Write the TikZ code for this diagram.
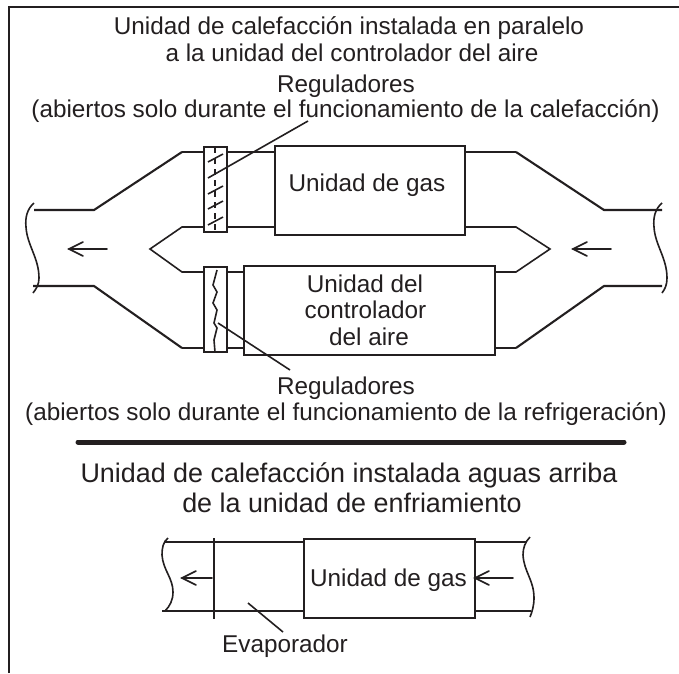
\documentclass[tikz,border=0pt]{standalone}
\usepackage{fontspec}
\setmainfont{Liberation Sans}
\definecolor{ink}{HTML}{231F20}
\tikzset{
  x=1pt,y=-1pt,
  line/.style={draw=ink,line width=1.6pt,line join=miter},
  bold line/.style={draw=ink,line width=2.1pt,line join=miter},
  flowhead/.style={draw=ink,line width=1.6pt,line cap=round,line join=miter},
  lbl/.style={text=ink,font=\fontsize{24.3}{28}\selectfont,inner sep=0pt,anchor=base},
  bigl/.style={text=ink,font=\fontsize{26.9}{30}\selectfont,inner sep=0pt,anchor=base},
  unitbox/.style={draw=ink,line width=1.8pt,inner sep=0pt,anchor=north west}
}
\begin{document}
\begin{tikzpicture}
\useasboundingbox (0,0) rectangle (679,673);
\fill[white] (0,0) rectangle (679,673);
\coordinate (fb) at (9,673); \coordinate (fc) at (9,7); \coordinate (fr) at (679,7);
\draw[draw=ink,line width=2.3pt] (fb) -- (fc) -- (fr);
% texts
\node[lbl] (t1) at (349,34) {Unidad de calefacción instalada en paralelo};
\node[lbl] (t1b) at (352,61) {a la unidad del controlador del aire};
\node[lbl] (t2) at (346,92) {Reguladores};
\node[lbl] (t3) at (345.5,117) {(abiertos solo durante el funcionamiento de la calefacción)};
\node[lbl] (t4) at (346,394) {Reguladores};
\node[lbl] (t5) at (346,420) {(abiertos solo durante el funcionamiento de la refrigeración)};
\node[bigl] (t6) at (349,482) {Unidad de calefacción instalada aguas arriba};
\node[bigl] (t6b) at (352,512) {de la unidad de enfriamiento};
\coordinate (barL) at (78,442); \coordinate (barR) at (624,442);
\draw[draw=ink,line width=5pt,line cap=round] (barL) -- (barR);
% boxes
\node[unitbox,minimum width=190pt,minimum height=89pt] (gas) at (274,145) {};
\node[lbl] (gaslbl) at (367,191) {Unidad de gas};
\node[unitbox,minimum width=251pt,minimum height=89pt] (ctl) at (243,265) {};
\node[lbl] (c1) at (365,292) {Unidad del};
\node[lbl] (c2) at (365.5,318) {controlador};
\node[lbl] (c3) at (369,345) {del aire};
% outer duct walls
\draw[bold line] (34,210) -- (94,210) -- (182,152);
\draw[line] (182,152) -- (204,152);
\draw[line] (227,152) -- (274,152);
\draw[line] (464,152) -- (516,152);
\draw[bold line] (516,152) -- (604,210) -- (662,210);
\draw[bold line] (33,286) -- (94,286) -- (182,348);
\draw[line] (182,348) -- (204,348);
\draw[line] (227,348) -- (243,348);
\draw[line] (494,348) -- (516,348);
\draw[bold line] (516,348) -- (604,286) -- (662,286);
% inner wedge
\draw[line] (204,227) -- (182,227) -- (150,249) -- (182,272) -- (204,272);
\draw[line] (227,227) -- (274,227);
\draw[line] (227,272) -- (243,272);
\draw[line] (464,227) -- (516,227) -- (550,249) -- (516,272) -- (494,272);
% duct ends
\draw[line] (34,203) .. controls (27,209) and (25,218) .. (26,227) .. controls (27,245) and (39,258) .. (39,278) .. controls (39,285) and (36,289) .. (33,293);
\draw[line] (662,203) .. controls (655,209) and (653,218) .. (654,227) .. controls (655,245) and (667,258) .. (667,278) .. controls (667,285) and (665,289) .. (662,293);
% dampers
\draw[line] (204,147) rectangle (227,232);
\draw[line] (204,267) rectangle (227,352);
\draw[draw=ink,line width=1.5pt,dash pattern=on 6pt off 5pt] (215,147) -- (215,232);
\foreach \yy in {162,194,209,225}{\draw[line] (208,\yy) -- (223,\yy-8);}
\coordinate (regA) at (208,178); \coordinate (regAend) at (308,121);
\draw[line] (regA) -- (regAend);
\draw[line] (217,270) -- (213,285) -- (217,292) -- (213,303) -- (217,310) -- (214,323) -- (217,328) -- (214,340) -- (215,352);
\coordinate (regB) at (218,323); \coordinate (regBend) at (290,370);
\draw[line] (regB) -- (regBend);
% arrows
\foreach \sx/\ex/\yy in {107/69/249,611/573/249,212/182/578,513/475/578}{
  \draw[flowhead] (\sx,\yy) -- (\ex,\yy);
  \draw[flowhead] (\ex+14,\yy-7) -- (\ex,\yy) -- (\ex+14,\yy+7);
}
% lower diagram
\node[unitbox,minimum width=171pt,minimum height=79pt] (gas2) at (303,538) {};
\node[lbl] (gas2lbl) at (388.5,586) {Unidad de gas};
\draw[line] (165,542) -- (303,542);
\draw[line] (474,542) -- (526,542);
\draw[bold line] (162,611) -- (303,611);
\draw[line] (474,611) -- (531,611);
\draw[line] (214,538) -- (214,619);
\draw[line] (168,538) .. controls (163,542) and (162,548) .. (162,555) .. controls (163,570) and (173,578) .. (173,592) .. controls (173,600) and (170,606) .. (165,611);
\draw[line] (530,537) .. controls (525,542) and (523,548) .. (523,555) .. controls (524,572) and (534,580) .. (534,598) .. controls (534,606) and (532,612) .. (530,617);
\node[lbl] (evap) at (285,652) {Evaporador};
\coordinate (evA) at (248,603); \coordinate (evB) at (283,632);
\draw[line] (evA) -- (evB);
\end{tikzpicture}
\end{document}
